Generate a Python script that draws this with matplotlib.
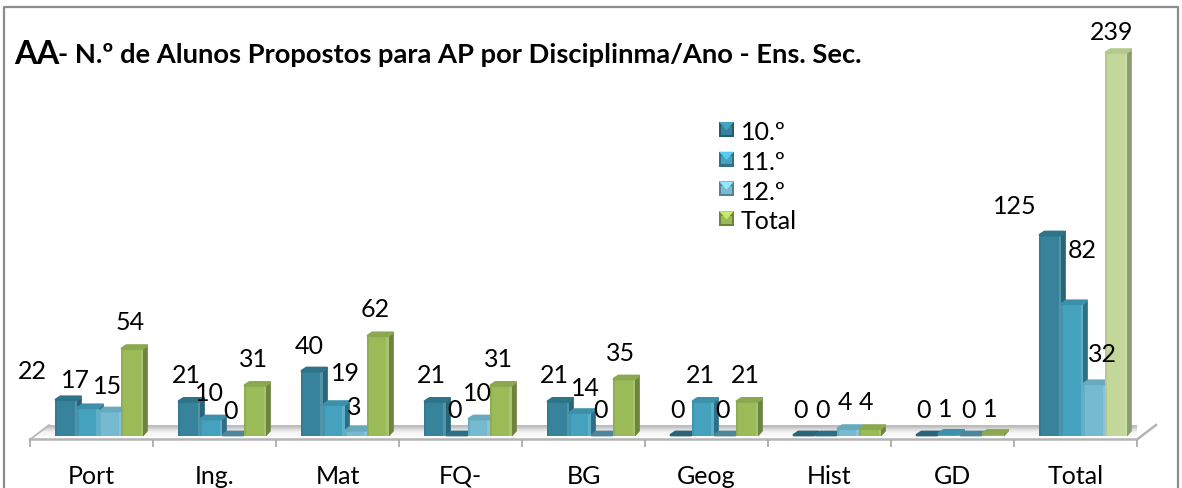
import numpy as np
import matplotlib
matplotlib.use("Agg")
import matplotlib.pyplot as plt
from matplotlib.legend_handler import HandlerPatch
from matplotlib.patches import Patch, Polygon, Rectangle

categories = ["Port", "Ing.", "Mat", "FQ-", "BG", "Geog", "Hist", "GD", "Total"]
series_names = ["10.º", "11.º", "12.º", "Total"]
ano_10 = [22, 21, 40, 21, 21, 0, 0, 0, 125]
ano_11 = [17, 10, 19, 0, 14, 21, 0, 1, 82]
ano_12 = [15, 0, 3, 10, 0, 0, 4, 0, 32]
total = [54, 31, 62, 31, 35, 21, 4, 1, 239]

# label offsets from the bar top centre, in pixels (the labels were hand moved)
label_dx = [
    [-34, -3, -3, -4, -4, -4, -4, -4, -35],
    [-13, -2, 11, -3, 5, -3, -3, -4, 10],
    [-2, -2, -2, -2, -2, -3, -3, -3, 8],
    [-2, -2, -3, -3, -3, -2, -4, -3, -4],
]
label_dy = [
    [30, 28, 27, 28, 28, 26, 26, 26, 30],
    [29, 27, 33, 26, 26, 28, 26, 26, 55],
    [26, 25, 25, 27, 26, 26, 28, 26, 31],
    [28, 28, 28, 28, 27, 28, 28, 26, 22],
]

colors = ["#37839b", "#45a2bf", "#76bad1", "#9bbb59"]
side_colors = ["#2a6478", "#2f6f85", "#4f8599", "#6d843f"]
top_colors = ["#2f7389", "#3c90aa", "#69a9be", "#8aa84f"]
# the last group is paler in the original for the Total series
pale_color, pale_side, pale_top = "#c4d79b", "#8d9b70", "#b5c98c"

FONT = "Lato"
W, H = 1182, 489
BASE = 437          # pixel row of value zero
PX_PER_UNIT = 1.6
PX_PER_CAT = 123
LEFT = 30
BAR_W = 22 / PX_PER_CAT
DEPTH_X = 4.5 / PX_PER_CAT
DEPTH_Y = 5 / PX_PER_UNIT

plt.rcParams["font.family"] = [FONT, "DejaVu Sans"]

fig = plt.figure(figsize=(W / 100, H / 100), dpi=100)
fig.patch.set_facecolor("white")
ax = fig.add_axes([LEFT / W, (H - BASE) / H, 9 * PX_PER_CAT / W, BASE / H])
ax.patch.set_visible(False)


def px_x(dx):
    return dx / PX_PER_CAT


def px_y(dy):
    return dy / PX_PER_UNIT


# chart frame, open at the bottom
fig.add_artist(plt.Line2D([4 / W, 4 / W, 1178 / W, 1178 / W],
                          [0, 1 - 8 / H, 1 - 8 / H, 0],
                          color="#8c8c8c", lw=1.6, transform=fig.transFigure))

# floor
floor = Polygon([(0, px_y(-3.5)), (px_x(19), px_y(11)),
                 (9 + px_x(19), px_y(11)), (9, px_y(-3.5))],
                closed=True, facecolor="none", edgecolor="none",
                transform=ax.transData)
ax.add_patch(floor)
shade = np.array([[0.74], [0.86], [0.95], [0.97], [0.93]])
img = ax.imshow(shade, cmap="gray", vmin=0, vmax=1, aspect="auto",
                extent=(0, 9 + px_x(19), px_y(-3.5), px_y(11)), zorder=1,
                interpolation="bilinear")
img.set_clip_path(floor)
ax.plot([0, 9, 9 + px_x(19)], [px_y(-3.5), px_y(-3.5), px_y(11)],
        color="#b4b4b4", lw=1.8, zorder=1.5, clip_on=False)
ax.plot([0, px_x(19)], [px_y(-3.5), px_y(11)],
        color="#b4b4b4", lw=1.2, zorder=1.5, clip_on=False)

# bars, drawn left to right so each front hides the side of the previous one
all_series = [ano_10, ano_11, ano_12, total]
z = 2.0
for g in range(len(categories)):
    for i, values in enumerate(all_series):
        v = values[g]
        x0 = g + px_x(25) + i * BAR_W
        face, side, top = colors[i], side_colors[i], top_colors[i]
        if g == 8 and i == 3:
            face, side, top = pale_color, pale_side, pale_top
        if v > 0:
            ax.add_patch(Polygon([(x0 + BAR_W, 0), (x0 + BAR_W + DEPTH_X, DEPTH_Y),
                                  (x0 + BAR_W + DEPTH_X, v + DEPTH_Y), (x0 + BAR_W, v)],
                                 facecolor=side, edgecolor=side, lw=0.5, zorder=z,
                                 clip_on=False))
            ax.bar(x0, v, BAR_W, align="edge", color=face, zorder=z + 0.1, clip_on=False)
            # sheen along the front edges
            ax.add_patch(Rectangle((x0, 0), px_x(2), v, facecolor=side, alpha=0.25,
                                   edgecolor="none", zorder=z + 0.2, clip_on=False))
            ax.add_patch(Rectangle((x0 + BAR_W - px_x(2.5), 0), px_x(2.5), v, facecolor="white",
                                   alpha=0.14, edgecolor="none", zorder=z + 0.2, clip_on=False))
        cap = side if v == 0 else top
        ax.add_patch(Polygon([(x0 + px_x(1), v + px_y(1)), (x0 + BAR_W - px_x(1), v + px_y(1)),
                              (x0 + BAR_W + DEPTH_X - px_x(1), v + DEPTH_Y - px_y(1)),
                              (x0 + DEPTH_X + px_x(1), v + DEPTH_Y - px_y(1))],
                             facecolor=cap, edgecolor=cap, lw=2.0, joinstyle="round",
                             zorder=z + 0.3, clip_on=False))
        z += 0.5

# value labels
for i, values in enumerate(all_series):
    for g, v in enumerate(values):
        cx = g + px_x(25) + (i + 0.5) * BAR_W
        ax.text(cx + px_x(label_dx[i][g]), v + px_y(label_dy[i][g]), str(v),
                ha="center", va="center", fontsize=18, color="black", zorder=50)

# category axis
ax.set_xlim(0, 9)
ax.set_ylim(0, BASE / PX_PER_UNIT)
ax.set_xticks(np.arange(10))
ax.set_xticks(np.arange(9) + 0.5, minor=True)
ax.set_xticklabels([])
ax.set_xticklabels(categories, minor=True, fontsize=18)
ax.tick_params(axis="x", which="major", length=5, width=1.2, color="#a6a6a6", pad=0)
ax.tick_params(axis="x", which="minor", length=0, pad=20)
ax.set_yticks([])
for name in ["top", "left", "right", "bottom"]:
    ax.spines[name].set_visible(False)
ax.xaxis.set_ticks_position("bottom")
for tick in ax.xaxis.get_major_ticks():
    tick.tick1line.set_transform(ax.get_xaxis_transform() + matplotlib.transforms.ScaledTranslation(0, -4 / 100, fig.dpi_scale_trans))


# legend with little bevelled squares
class BevelHandler(HandlerPatch):
    def create_artists(self, legend, orig_handle, xdescent, ydescent, width, height, fontsize, trans):
        s = 15 * 0.72
        x0, y0 = 0, (height - s) / 2
        col = orig_handle.get_facecolor()
        dark = tuple(c * 0.7 for c in col[:3])
        light = tuple(min(1, c * 1.25) for c in col[:3])
        base = Rectangle((x0, y0), s, s, facecolor=dark, edgecolor="none", transform=trans)
        tri = Polygon([(x0, y0 + s), (x0 + s, y0 + s), (x0 + s / 2, y0 + s * 0.45)],
                      facecolor=light, edgecolor="none", transform=trans)
        mid = Rectangle((x0 + s * 0.15, y0 + s * 0.15), s * 0.7, s * 0.55, facecolor=col,
                        edgecolor="none", transform=trans)
        return [base, mid, tri]


handles = [Patch(facecolor=c, label=n) for c, n in zip(colors, series_names)]
fig.legend(handles=handles, loc="upper left", bbox_to_anchor=(714 / W, 1 - 116 / H),
           frameon=False, fontsize=18, handlelength=0.8, handleheight=0.8, handletextpad=0.08,
           labelspacing=0.27, borderpad=0.2, borderaxespad=0,
           handler_map={Patch: BevelHandler()})

# title
fig.text(14 / W, 1 - 55 / H, "AA", fontsize=23.5, fontweight="bold", ha="left", va="center")
fig.text(58 / W, 1 - 55 / H, "- N.º de Alunos Propostos para AP por Disciplinma/Ano - Ens. Sec.",
         fontsize=19.7, fontweight="bold", ha="left", va="center")

fig.savefig("out.png", dpi=100)
